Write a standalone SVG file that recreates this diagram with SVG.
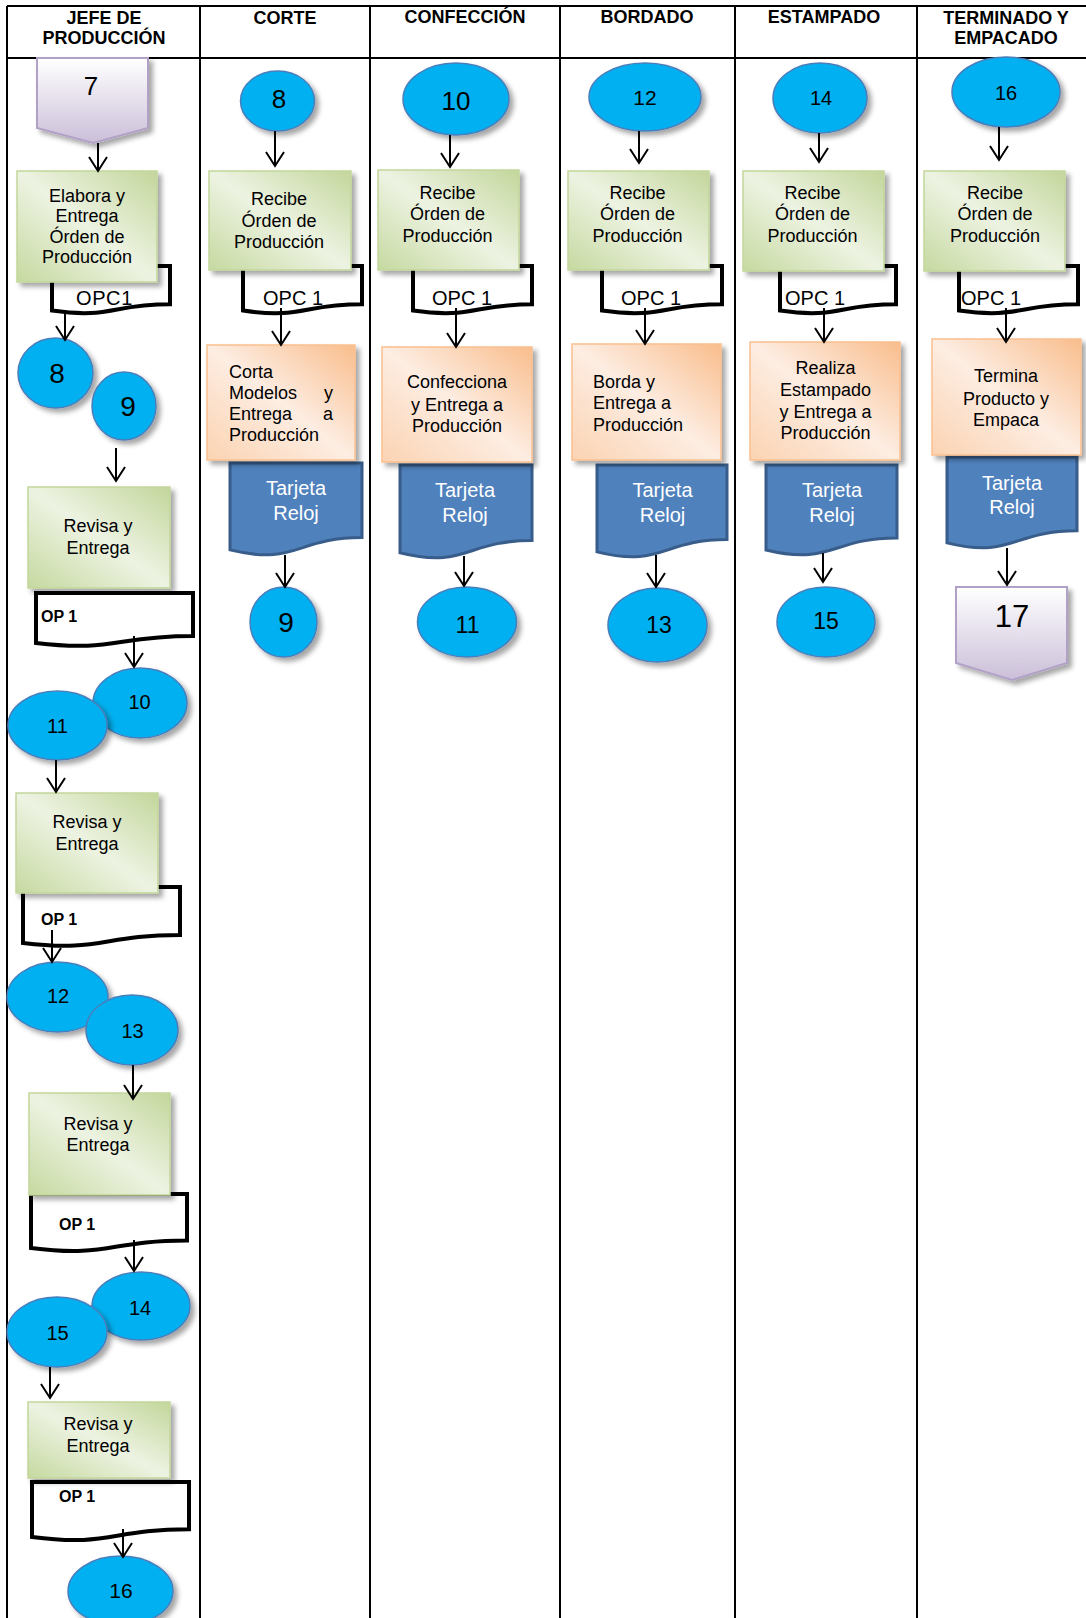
<svg xmlns="http://www.w3.org/2000/svg" width="1086" height="1618" viewBox="0 0 1086 1618">
  <style>
    text { font-family: "Liberation Sans", Arial, sans-serif; fill: #000; }
    .hd { font-size: 18px; font-weight: bold; text-anchor: middle; }
    .t { font-size: 18px; }
    .m { text-anchor: middle; }
    .tj { font-size: 20px; fill: #fff; text-anchor: middle; }
    .opc { font-size: 20px; }
    .op { font-size: 16px; font-weight: bold; }
    .grid { stroke: #000; stroke-width: 2; fill: none; }
    .green { fill: url(#gGreen); stroke: #c3d69b; stroke-width: 1.5; filter: url(#shadow); }
    .orange { fill: url(#gOrange); stroke: #fac090; stroke-width: 1.5; filter: url(#shadow); }
    .circ { fill: #00b0f0; stroke: #4a7ebb; stroke-width: 1.5; filter: url(#shadow); }
    .doc { fill: #fff; stroke: #000; stroke-width: 4; stroke-linejoin: miter; }
    .card { fill: #4f81bd; stroke: #385d8a; stroke-width: 3; }
    .page { fill: url(#gPage); stroke: #b2a1c7; stroke-width: 2; filter: url(#shadow); }
    .arw { stroke: #000; stroke-width: 2; fill: none; marker-end: url(#ah); }
  </style>
  <defs>
    <linearGradient id="gGreen" x1="0" y1="1" x2="1" y2="0">
      <stop offset="0" stop-color="#c6d9a0"/>
      <stop offset="0.5" stop-color="#edf3e2"/>
      <stop offset="1" stop-color="#c3d69b"/>
    </linearGradient>
    <linearGradient id="gOrange" x1="0" y1="1" x2="1" y2="0">
      <stop offset="0" stop-color="#fbd3b2"/>
      <stop offset="0.5" stop-color="#fdede2"/>
      <stop offset="1" stop-color="#f9bd8c"/>
    </linearGradient>
    <linearGradient id="gPage" x1="0" y1="0" x2="0" y2="1">
      <stop offset="0" stop-color="#ffffff"/>
      <stop offset="1" stop-color="#cbbfd9"/>
    </linearGradient>
    <filter id="shadow" x="-15%" y="-15%" width="140%" height="145%">
      <feDropShadow dx="4" dy="4" stdDeviation="2.5" flood-color="#000" flood-opacity="0.35"/>
    </filter>
    <marker id="ah" viewBox="-16 -11 18 22" markerWidth="18" markerHeight="22" refX="0" refY="0" orient="auto" markerUnits="userSpaceOnUse">
      <path d="M-14,-9 L0,0 L-14,9" fill="none" stroke="#000" stroke-width="2"/>
    </marker>
  </defs>

  <rect width="1086" height="1618" fill="#fff"/>

  <!-- swimlane grid -->
  <g id="lanes">
    <path class="grid" d="M7,6 H1086 M7,58 H1086 M7,6 V1618 M200,6 V1618 M370,6 V1618 M560,6 V1618 M735,6 V1618 M917,6 V1618"/>
    <text class="hd" x="104" y="24">JEFE DE</text>
    <text class="hd" x="104" y="44">PRODUCCIÓN</text>
    <text class="hd" x="285" y="24">CORTE</text>
    <text class="hd" x="465" y="23">CONFECCIÓN</text>
    <text class="hd" x="647" y="23">BORDADO</text>
    <text class="hd" x="824" y="23">ESTAMPADO</text>
    <text class="hd" x="1006" y="24">TERMINADO Y</text>
    <text class="hd" x="1006" y="44">EMPACADO</text>
  </g>

  <!-- JEFE DE PRODUCCIÓN -->
  <g id="n-jefe-7">
    <path class="page" d="M37,58 H148 V128 L93,143 L37,128 Z"/>
    <text x="91" y="95" class="m" font-size="26">7</text>
  </g>
  <g id="n-jefe-opc1">
    <path class="doc" d="M52,266 H170 V304.3 C111,304.3 111,318.9 52,310.6 Z"/>
  </g>
  <g id="n-jefe-elabora">
    <rect class="green" x="17" y="171" width="140" height="111"/>
    <text class="t m" x="87" y="202">Elabora y</text>
    <text class="t m" x="87" y="222">Entrega</text>
    <text class="t m" x="87" y="243">Órden de</text>
    <text class="t m" x="87" y="263">Producción</text>
  </g>
  <text class="opc" x="76" y="305" letter-spacing="0.6">OPC1</text>

  <g id="n-jefe-8">
    <ellipse class="circ" cx="55.5" cy="373" rx="37.5" ry="35"/>
    <text x="57" y="383" class="m" font-size="28">8</text>
  </g>
  <g id="n-jefe-9">
    <ellipse class="circ" cx="124" cy="406" rx="32" ry="34"/>
    <text x="128" y="416" class="m" font-size="28">9</text>
  </g>

  <g id="n-jefe-revisa1">
    <rect class="green" x="28" y="487" width="142" height="101"/>
    <text class="t m" x="98" y="532">Revisa y</text>
    <text class="t m" x="98" y="554">Entrega</text>
  </g>
  <g id="n-jefe-op1a">
    <path class="doc" d="M36,593 H193 V635.9 C114.5,635.9 114.5,652.3 36,643 Z"/>
    <text class="op" x="41" y="622">OP 1</text>
  </g>

  <g id="n-jefe-10">
    <ellipse class="circ" cx="140" cy="703" rx="47" ry="35"/>
    <text x="139.5" y="709" class="m" font-size="20">10</text>
  </g>
  <g id="n-jefe-11">
    <ellipse class="circ" cx="57.5" cy="725.5" rx="49.5" ry="34.5"/>
    <text x="57.5" y="733" class="m" font-size="20">11</text>
  </g>

  <g id="n-jefe-op1b">
    <path class="doc" d="M23,887 H180 V935 C101.5,935 101.5,952.5 23,943 Z"/>
  </g>
  <g id="n-jefe-revisa2">
    <rect class="green" x="16" y="793" width="142" height="100"/>
    <text class="t m" x="87" y="828">Revisa y</text>
    <text class="t m" x="87" y="850">Entrega</text>
  </g>
  <text class="op" x="41" y="925">OP 1</text>

  <g id="n-jefe-12">
    <ellipse class="circ" cx="57.5" cy="997" rx="50.5" ry="35"/>
    <text x="58" y="1003" class="m" font-size="20">12</text>
  </g>
  <g id="n-jefe-13">
    <ellipse class="circ" cx="132" cy="1030" rx="46" ry="35"/>
    <text x="132.5" y="1038" class="m" font-size="20">13</text>
  </g>

  <g id="n-jefe-op1c">
    <path class="doc" d="M31,1194 H187 V1240.4 C109,1240.4 109,1258 31,1248 Z"/>
  </g>
  <g id="n-jefe-revisa3">
    <rect class="green" x="29" y="1093" width="141" height="102"/>
    <text class="t m" x="98" y="1130">Revisa y</text>
    <text class="t m" x="98" y="1151">Entrega</text>
  </g>
  <text class="op" x="59" y="1230">OP 1</text>

  <g id="n-jefe-14">
    <ellipse class="circ" cx="141" cy="1306" rx="49" ry="34"/>
    <text x="140" y="1315" class="m" font-size="20">14</text>
  </g>
  <g id="n-jefe-15">
    <ellipse class="circ" cx="57" cy="1332" rx="50" ry="35"/>
    <text x="57.5" y="1340" class="m" font-size="20">15</text>
  </g>

  <g id="n-jefe-op1d">
    <path class="doc" d="M32,1482 H189 V1529.2 C110.5,1529.2 110.5,1547.2 32,1537 Z"/>
  </g>
  <g id="n-jefe-revisa4">
    <rect class="green" x="28" y="1402" width="142" height="76"/>
    <text class="t m" x="98" y="1430">Revisa y</text>
    <text class="t m" x="98" y="1452">Entrega</text>
  </g>
  <text class="op" x="59" y="1502">OP 1</text>

  <g id="n-jefe-16">
    <ellipse class="circ" cx="120.5" cy="1591" rx="52.5" ry="35"/>
    <text x="121" y="1598" class="m" font-size="21">16</text>
  </g>

  <!-- CORTE -->
  <g id="n-corte-8">
    <ellipse class="circ" cx="277.5" cy="101" rx="37" ry="30"/>
    <text x="279" y="108" class="m" font-size="26">8</text>
  </g>
  <g id="n-corte-opc">
    <path class="doc" d="M243,266 H362 V304.3 C302.5,304.3 302.5,318.9 243,310.6 Z"/>
  </g>
  <g id="n-corte-recibe">
    <rect class="green" x="209" y="171" width="142" height="99"/>
    <text class="t m" x="279" y="205">Recibe</text>
    <text class="t m" x="279" y="227">Órden de</text>
    <text class="t m" x="279" y="248">Producción</text>
  </g>
  <text class="opc" x="263" y="305">OPC 1</text>
  <g id="n-corte-tarjeta">
    <path class="card" d="M230,463 H362 V537.6 C296,537.6 296,566 230,549.9 Z"/>
    <text class="tj" x="296" y="495">Tarjeta</text>
    <text class="tj" x="296" y="520">Reloj</text>
  </g>
  <g id="n-corte-corta">
    <rect class="orange" x="207" y="345" width="148" height="115"/>
    <text class="t" x="229" y="378">Corta</text>
    <text class="t" x="229" y="399">Modelos</text>
    <text class="t" x="333" y="399" text-anchor="end">y</text>
    <text class="t" x="229" y="420">Entrega</text>
    <text class="t" x="333" y="420" text-anchor="end">a</text>
    <text class="t" x="229" y="441">Producción</text>
  </g>
  <g id="n-corte-9">
    <ellipse class="circ" cx="283.5" cy="622" rx="33.5" ry="35"/>
    <text x="286" y="632" class="m" font-size="28">9</text>
  </g>

  <!-- CONFECCIÓN -->
  <g id="n-conf-10">
    <ellipse class="circ" cx="456" cy="99" rx="53" ry="36"/>
    <text x="456" y="110" class="m" font-size="26">10</text>
  </g>
  <g id="n-conf-opc">
    <path class="doc" d="M413,266 H532 V304.3 C472.5,304.3 472.5,318.9 413,310.6 Z"/>
  </g>
  <g id="n-conf-recibe">
    <rect class="green" x="378" y="170" width="141" height="100"/>
    <text class="t m" x="447.5" y="199">Recibe</text>
    <text class="t m" x="447.5" y="220">Órden de</text>
    <text class="t m" x="447.5" y="242">Producción</text>
  </g>
  <text class="opc" x="432" y="305">OPC 1</text>
  <g id="n-conf-tarjeta">
    <path class="card" d="M400,465 H532 V540.4 C466,540.4 466,569.1 400,552.8 Z"/>
    <text class="tj" x="465" y="497">Tarjeta</text>
    <text class="tj" x="465" y="522">Reloj</text>
  </g>
  <g id="n-conf-confecciona">
    <rect class="orange" x="382" y="347" width="150" height="115"/>
    <text class="t m" x="457" y="388">Confecciona</text>
    <text class="t m" x="457" y="411">y Entrega a</text>
    <text class="t m" x="457" y="432">Producción</text>
  </g>
  <g id="n-conf-11">
    <ellipse class="circ" cx="467" cy="622" rx="49.5" ry="35"/>
    <text x="467.5" y="633" class="m" font-size="23">11</text>
  </g>

  <!-- BORDADO -->
  <g id="n-bord-12">
    <ellipse class="circ" cx="645" cy="97" rx="56" ry="34"/>
    <text x="645" y="105" class="m" font-size="21">12</text>
  </g>
  <g id="n-bord-opc">
    <path class="doc" d="M602,266 H722 V304.3 C662,304.3 662,318.9 602,310.6 Z"/>
  </g>
  <g id="n-bord-recibe">
    <rect class="green" x="568" y="171" width="141" height="99"/>
    <text class="t m" x="637.5" y="199">Recibe</text>
    <text class="t m" x="637.5" y="220">Órden de</text>
    <text class="t m" x="637.5" y="242">Producción</text>
  </g>
  <text class="opc" x="621" y="305">OPC 1</text>
  <g id="n-bord-tarjeta">
    <path class="card" d="M597,465 H727 V539.6 C662,539.6 662,568 597,551.9 Z"/>
    <text class="tj" x="662.5" y="497">Tarjeta</text>
    <text class="tj" x="662.5" y="522">Reloj</text>
  </g>
  <g id="n-bord-borda">
    <rect class="orange" x="572" y="344" width="149" height="116"/>
    <text class="t" x="593" y="388">Borda y</text>
    <text class="t" x="593" y="409">Entrega a</text>
    <text class="t" x="593" y="431">Producción</text>
  </g>
  <g id="n-bord-13">
    <ellipse class="circ" cx="657.5" cy="625" rx="49.5" ry="37"/>
    <text x="659" y="633" class="m" font-size="23">13</text>
  </g>

  <!-- ESTAMPADO -->
  <g id="n-estamp-14">
    <ellipse class="circ" cx="820" cy="98" rx="47" ry="35"/>
    <text x="821" y="105" class="m" font-size="20">14</text>
  </g>
  <g id="n-estamp-opc">
    <path class="doc" d="M780,266 H896 V304.3 C838,304.3 838,318.9 780,310.6 Z"/>
  </g>
  <g id="n-estamp-recibe">
    <rect class="green" x="743" y="171" width="141" height="100"/>
    <text class="t m" x="812.5" y="199">Recibe</text>
    <text class="t m" x="812.5" y="220">Órden de</text>
    <text class="t m" x="812.5" y="242">Producción</text>
  </g>
  <text class="opc" x="785" y="305">OPC 1</text>
  <g id="n-estamp-tarjeta">
    <path class="card" d="M766,465 H897 V538 C831.5,538 831.5,565.8 766,550 Z"/>
    <text class="tj" x="832" y="497">Tarjeta</text>
    <text class="tj" x="832" y="522">Reloj</text>
  </g>
  <g id="n-estamp-realiza">
    <rect class="orange" x="750" y="342" width="150" height="118"/>
    <text class="t m" x="825.5" y="374">Realiza</text>
    <text class="t m" x="825.5" y="396">Estampado</text>
    <text class="t m" x="825.5" y="418">y Entrega a</text>
    <text class="t m" x="825.5" y="439">Producción</text>
  </g>
  <g id="n-estamp-15">
    <ellipse class="circ" cx="826" cy="622" rx="49" ry="35"/>
    <text x="826" y="629" class="m" font-size="23">15</text>
  </g>

  <!-- TERMINADO Y EMPACADO -->
  <g id="n-term-16">
    <ellipse class="circ" cx="1006" cy="92" rx="54" ry="35"/>
    <text x="1006" y="100" class="m" font-size="20">16</text>
  </g>
  <g id="n-term-opc">
    <path class="doc" d="M959,266 H1078 V304.3 C1018.5,304.3 1018.5,318.9 959,310.6 Z"/>
  </g>
  <g id="n-term-recibe">
    <rect class="green" x="924" y="171" width="141" height="100"/>
    <text class="t m" x="995" y="199">Recibe</text>
    <text class="t m" x="995" y="220">Órden de</text>
    <text class="t m" x="995" y="242">Producción</text>
  </g>
  <text class="opc" x="961" y="305">OPC 1</text>
  <g id="n-term-tarjeta">
    <path class="card" d="M947,457 H1077 V530.8 C1012,530.8 1012,558.9 947,542.9 Z"/>
    <text class="tj" x="1012" y="490">Tarjeta</text>
    <text class="tj" x="1012" y="514">Reloj</text>
  </g>
  <g id="n-term-termina">
    <rect class="orange" x="932" y="339" width="149" height="116"/>
    <text class="t m" x="1006" y="382">Termina</text>
    <text class="t m" x="1006" y="405">Producto y</text>
    <text class="t m" x="1006" y="426">Empaca</text>
  </g>
  <g id="n-term-17">
    <path class="page" d="M956,587 H1067 V663 L1012,680 L956,663 Z"/>
    <text x="1012" y="627" class="m" font-size="31">17</text>
  </g>

  <!-- connectors -->
  <g id="connectors">
    <path class="arw" d="M98,143 V171"/>
    <path class="arw" d="M65,310 V340"/>
    <path class="arw" d="M116,448 V481"/>
    <path class="arw" d="M134,636 V667"/>
    <path class="arw" d="M56,760 V792"/>
    <path class="arw" d="M52,930 V962"/>
    <path class="arw" d="M133,1065 V1099"/>
    <path class="arw" d="M134,1240 V1271"/>
    <path class="arw" d="M50,1367 V1398"/>
    <path class="arw" d="M123,1529 V1557"/>

    <path class="arw" d="M275,131 V166"/>
    <path class="arw" d="M281,308 V345"/>
    <path class="arw" d="M285,555 V587"/>

    <path class="arw" d="M450,135 V167"/>
    <path class="arw" d="M456,308 V347"/>
    <path class="arw" d="M464,556 V586"/>

    <path class="arw" d="M639,131 V163"/>
    <path class="arw" d="M645,308 V344"/>
    <path class="arw" d="M656,555 V587"/>

    <path class="arw" d="M819,133 V162"/>
    <path class="arw" d="M824,308 V342"/>
    <path class="arw" d="M823,553 V582"/>

    <path class="arw" d="M999,127 V160"/>
    <path class="arw" d="M1006,308 V342"/>
    <path class="arw" d="M1007,548 V585"/>
  </g>
</svg>
